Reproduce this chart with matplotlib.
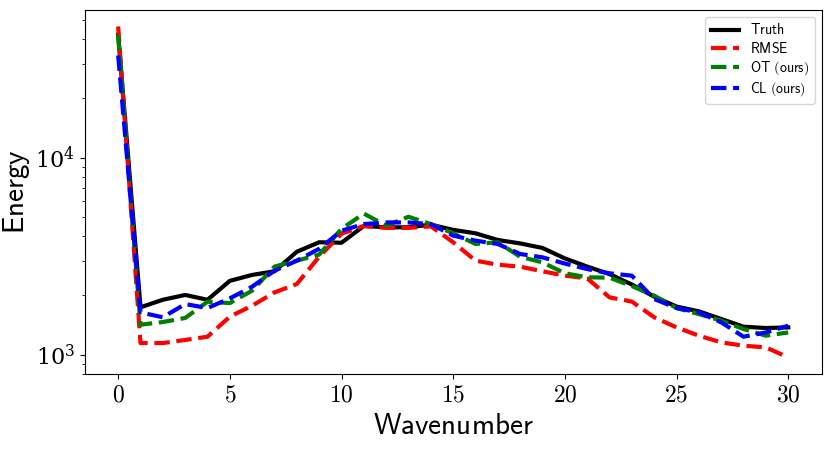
import numpy as np
import matplotlib as mpl
mpl.use('Agg')
import matplotlib.pyplot as plt

plt.rcParams['mathtext.fontset'] = 'cm'
plt.rcParams['font.family'] = 'serif'
plt.rcParams['font.serif'] = ['DejaVu Serif']

k = np.arange(31)
truth = [42000, 1740, 1900, 2010, 1900, 2370, 2540, 2650, 3330, 3720, 3700, 4500,
         4430, 4430, 4570, 4300, 4130, 3820, 3670, 3480, 3080, 2800, 2565, 2270,
         1970, 1755, 1660, 1518, 1387, 1366, 1376]
rmse = [46300, 1146, 1146, 1188, 1234, 1560, 1773, 2070, 2284, 3140, 4110, 4500,
        4400, 4400, 4480, 3720, 3000, 2862, 2797, 2650, 2518, 2440, 1954, 1860,
        1548, 1376, 1249, 1155, 1111, 1089, 969]
ot = [42000, 1420, 1465, 1536, 1857, 1828, 2113, 2800, 3000, 3220, 4350, 5200,
      4520, 5010, 4600, 4130, 3646, 3718, 3140, 2940, 2590, 2470, 2460, 2230,
      1993, 1725, 1607, 1488, 1350, 1249, 1297]
cl = [33000, 1640, 1548, 1807, 1725, 1931, 2214, 2668, 3000, 3446, 4256, 4600,
      4690, 4690, 4600, 4020, 3790, 3646, 3243, 3118, 2900, 2720, 2588, 2518,
      1917, 1725, 1640, 1460, 1234, 1297, 1403]

fig = plt.figure(figsize=(8.3, 4.5), dpi=100)
ax = fig.add_axes([0.102, 0.169, 0.888, 0.809])

lw = 3
ax.plot(k, truth, color='black', lw=lw, label=r'$\mathsf{Truth}$')
ax.plot(k, rmse, color='red', lw=lw, ls='--', label=r'$\mathsf{RMSE}$')
ax.plot(k, ot, color='green', lw=lw, ls='--',
        label=r'$\mathsf{OT\ }\mathrm{(}\mathsf{ours}\mathrm{)}$')
ax.plot(k, cl, color='blue', lw=lw, ls='--',
        label=r'$\mathsf{CL\ }\mathrm{(}\mathsf{ours}\mathrm{)}$')

ax.set_yscale('log')
ax.set_xticks([0, 5, 10, 15, 20, 25, 30])
ax.set_xticklabels([r'$%d$' % v for v in [0, 5, 10, 15, 20, 25, 30]])
ax.tick_params(axis='x', labelsize=17)
ax.tick_params(axis='y', labelsize=16)
ax.set_xlabel(r'$\mathsf{Wavenumber}$', fontsize=21, labelpad=4)
ax.set_ylabel(r'$\mathsf{Energy}$', fontsize=21)
ax.yaxis.set_label_coords(-0.071, 0.5)
ax.legend(loc='upper right', fontsize=10, labelspacing=0.25)

fig.savefig('out.png', dpi=100)
